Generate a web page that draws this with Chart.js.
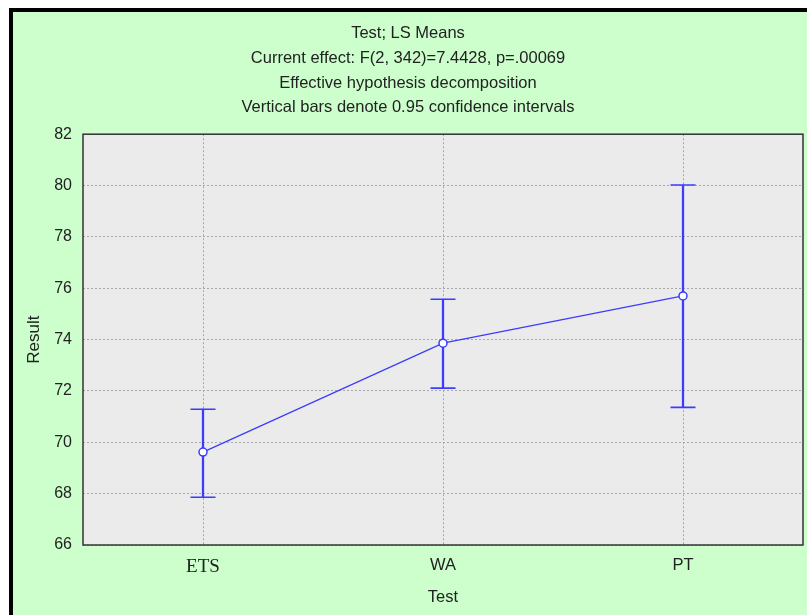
<!DOCTYPE html>
<html>
<head>
<meta charset="utf-8">
<script src="https://cdn.jsdelivr.net/npm/chart.js@4/dist/chart.umd.min.js"></script>
<style>
    html, body { margin: 0; padding: 0; background: #fff; overflow: hidden; }
    .frame {
        position: absolute;
        left: 9px;
        top: 8px;
        width: 798px;
        height: 607px;
        border-left: 4px solid #000;
        border-top: 4px solid #000;
        background: #ccffcc;
    }
    canvas { display: block; }
</style>
</head>
<body>
<div class="frame">
    <canvas id="lsMeansChart" width="794" height="603"></canvas>
</div>
<script>
// Chart data
const categories = ['ETS', 'WA', 'PT'];
const means = [69.62, 73.86, 75.70];
const upperCI = [71.29, 75.57, 80.02];
const lowerCI = [67.86, 72.11, 71.36];
const yTicks = [66, 68, 70, 72, 74, 76, 78, 80, 82];
const titleLines = [
    'Test; LS Means',
    'Current effect: F(2, 342)=7.4428, p=.00069',
    'Effective hypothesis decomposition',
    'Vertical bars denote 0.95 confidence intervals'
];

const BLUE = 'rgb(60, 60, 255)';
const TEXT = '#222';
const SANS = '"Liberation Sans", Arial, sans-serif';

/**
 * Gray plot background and frame around the chart area
 */
const plotFrame = {
    id: 'plotFrame',
    beforeDraw(chart) {
        const { ctx, chartArea: a } = chart;
        ctx.save();
        ctx.fillStyle = '#ebebeb';
        ctx.fillRect(a.left, a.top, a.right - a.left, a.bottom - a.top);
        ctx.restore();
    },
    afterDatasetsDraw(chart) {
        const { ctx, chartArea: a } = chart;
        ctx.save();
        ctx.strokeStyle = '#333';
        ctx.lineWidth = 1.5;
        ctx.strokeRect(a.left, a.top, a.right - a.left, a.bottom - a.top);
        ctx.restore();
    }
};

document.addEventListener('DOMContentLoaded', () => {
    const ctx = document.getElementById('lsMeansChart').getContext('2d');

    // error bar stems as thin floating bars
    const ranges = lowerCI.map((lo, i) => [lo, upperCI[i]]);

    new Chart(ctx, {
        type: 'bar',
        data: {
            labels: categories,
            datasets: [
                {
                    type: 'line',
                    label: 'Mean',
                    data: means,
                    borderColor: BLUE,
                    borderWidth: 1.3,
                    pointRadius: 4,
                    pointBackgroundColor: '#fff',
                    pointBorderColor: BLUE,
                    pointBorderWidth: 1.5,
                    order: 0
                },
                {
                    type: 'line',
                    label: 'Upper',
                    data: upperCI,
                    showLine: false,
                    pointStyle: 'line',
                    pointRadius: 12.5,
                    pointBorderColor: BLUE,
                    pointBorderWidth: 1.6,
                    order: 1
                },
                {
                    type: 'line',
                    label: 'Lower',
                    data: lowerCI,
                    showLine: false,
                    pointStyle: 'line',
                    pointRadius: 12.5,
                    pointBorderColor: BLUE,
                    pointBorderWidth: 1.6,
                    order: 1
                },
                {
                    label: 'CI',
                    data: ranges,
                    backgroundColor: BLUE,
                    borderWidth: 0,
                    barThickness: 1.6,
                    grouped: false,
                    order: 2
                }
            ]
        },
        options: {
            responsive: false,
            animation: false,
            layout: {
                autoPadding: false,
                padding: { left: 0, right: 4, top: 0, bottom: 0 }
            },
            scales: {
                x: {
                    offset: true,
                    grid: {
                        offset: false,
                        color: '#a8a8a8',
                        lineWidth: 1,
                        drawTicks: false
                    },
                    border: { display: false, dash: [2, 2] },
                    ticks: {
                        padding: 11,
                        color: TEXT,
                        font: (c) => c.index === 0
                            ? { family: '"Liberation Serif", "Times New Roman", serif', size: 19 }
                            : { family: SANS, size: 16.5 }
                    },
                    title: {
                        display: true,
                        text: 'Test',
                        color: TEXT,
                        font: { family: SANS, size: 16.5 },
                        padding: { top: 0, bottom: 8 }
                    },
                    afterFit: (scale) => { scale.height = 70; }
                },
                y: {
                    min: 66,
                    max: 82,
                    afterBuildTicks: (scale) => {
                        scale.ticks = yTicks.map(v => ({ value: v }));
                    },
                    grid: {
                        color: '#a8a8a8',
                        lineWidth: 1,
                        drawTicks: false
                    },
                    border: { display: false, dash: [2, 2] },
                    ticks: {
                        padding: 11,
                        color: TEXT,
                        font: { family: SANS, size: 16 }
                    },
                    title: {
                        display: true,
                        text: 'Result',
                        color: TEXT,
                        font: { family: SANS, size: 17 },
                        padding: { top: 11, bottom: 0 }
                    },
                    afterFit: (scale) => { scale.width = 70; }
                }
            },
            plugins: {
                legend: { display: false },
                tooltip: { enabled: false },
                title: {
                    display: true,
                    text: titleLines,
                    color: TEXT,
                    font: { family: SANS, size: 16.5, weight: 'normal', lineHeight: 24.8 / 16.5 },
                    padding: { top: 9, bottom: 14 }
                }
            }
        },
        plugins: [plotFrame]
    });
});
</script>
</body>
</html>
